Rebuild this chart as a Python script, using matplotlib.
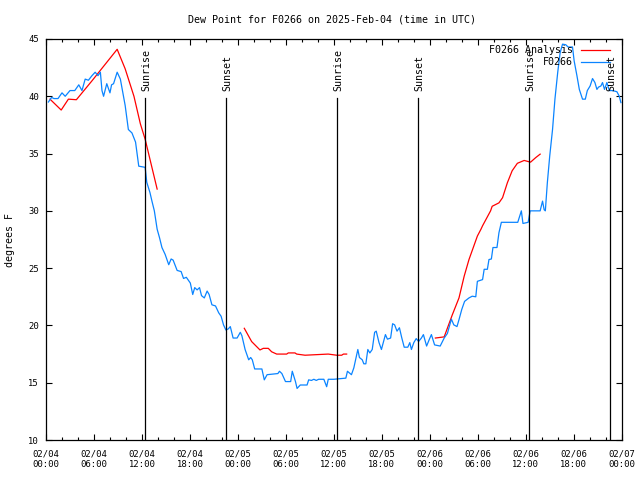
import matplotlib
matplotlib.use('Agg')
import matplotlib.pyplot as plt
from matplotlib.ticker import MultipleLocator

# hours since 02/04 00:00 UTC
obs_hours = [0.3, 0.7, 1.0, 1.5, 2.0, 2.4, 3.0, 3.6, 4.1, 4.5, 4.9, 5.3, 5.75, 6.15, 6.5, 6.8,
             7.0, 7.2, 7.6, 8.0, 8.2, 8.45, 8.9, 9.3, 9.9, 10.3, 10.75, 11.2, 11.6, 12.4, 12.6,
             13.0, 13.25, 13.55, 13.9, 14.2, 14.5, 14.9, 15.35, 15.65, 15.9, 16.4, 16.9, 17.2,
             17.55, 18.05, 18.35, 18.6, 18.9, 19.2, 19.45, 19.8, 20.15, 20.4, 20.75, 21.2, 21.6,
             21.9, 22.2, 22.5, 22.8, 23.05, 23.4, 23.9, 24.3, 24.5, 24.9, 25.35, 25.6, 25.8,
             26.1, 27.0, 27.3, 27.65, 29.0, 29.2, 29.5, 29.95, 30.6, 30.8, 31.2, 31.4, 31.8,
             32.65, 32.85, 33.2, 33.5, 33.8, 34.1, 34.75, 35.1, 35.3, 36.0, 37.5, 37.7, 38.2,
             38.5, 39.0, 39.2, 39.55, 39.75, 40.0, 40.25, 40.5, 40.8, 41.1, 41.3, 41.65, 41.95,
             42.45, 42.7, 43.1, 43.35, 43.6, 43.9, 44.2, 44.5, 44.8, 45.25, 45.5, 45.7, 46.0,
             46.3, 46.6, 46.95, 47.2, 47.6, 47.95, 48.2, 48.6, 49.3, 49.8, 50.2, 50.7, 51.0,
             51.4, 51.65, 52.0, 52.35, 52.9, 53.3, 53.75, 53.95, 54.6, 54.8, 55.2, 55.4, 55.7,
             55.9, 56.4, 56.65, 56.95, 58.5, 59.0, 59.45, 59.65, 60.3, 60.55, 61.8, 62.1, 62.3,
             62.45, 62.7, 63.0, 63.35, 63.65, 64.0, 64.3, 64.6, 65.0, 65.3, 65.85, 66.05, 66.4,
             66.7, 67.1, 67.45, 67.7, 68.05, 68.35, 68.65, 68.9, 69.1, 69.4, 69.6, 69.85, 70.15,
             70.45, 70.85, 71.4, 71.7, 71.9]
obs_dewpt = [39.5, 39.9, 39.8, 39.8, 40.3, 40.0, 40.5, 40.5, 41.0, 40.5, 41.5, 41.4, 41.8, 42.1, 41.8, 42.1,
             40.5, 40.0, 41.1, 40.3, 41.0, 41.1, 42.1, 41.5, 39.2, 37.1, 36.8, 36.0, 33.9, 33.8, 32.5,
             31.6, 30.85, 30.0, 28.4, 27.65, 26.8, 26.2, 25.3, 25.8, 25.7, 24.8, 24.7, 24.1,
             24.2, 23.7, 22.7, 23.3, 23.1, 23.3, 22.6, 22.4, 23.0, 22.7, 21.8, 21.7, 21.1,
             20.8, 20.05, 19.6, 19.7, 19.9, 18.9, 18.9, 19.4, 19.1, 17.9, 17.0, 17.2, 17.0,
             16.2, 16.2, 15.25, 15.7, 15.8, 16.0, 15.8, 15.1, 15.1, 16.0, 15.1, 14.5, 14.8,
             14.8, 15.25, 15.2, 15.3, 15.2, 15.3, 15.3, 14.65, 15.3, 15.3, 15.4, 16.0, 15.7,
             16.3, 17.9, 17.2, 17.0, 16.65, 16.65, 17.9, 17.6, 17.9, 19.4, 19.5, 18.5, 17.9,
             19.2, 18.8, 18.9, 20.15, 20.05, 19.5, 19.8, 18.9, 18.1, 18.1, 18.5, 17.9, 18.5,
             18.85, 18.6, 18.9, 19.2, 18.2, 18.8, 19.2, 18.3, 18.2, 18.9, 19.3, 20.55, 20.05,
             19.9, 20.5, 21.4, 22.1, 22.4, 22.55, 22.5, 23.85, 24.0, 24.9, 24.9, 25.75, 25.8,
             26.8, 26.8, 28.1, 29.0, 29.0, 29.0, 30.0, 28.9, 29.0, 30.0, 30.0, 30.85, 30.1,
             30.0, 32.45, 34.8, 37.1, 39.75, 42.1, 43.8, 44.55, 44.5, 44.3, 44.3, 43.1, 41.8,
             40.6, 39.75, 39.75, 40.5, 40.9, 41.55, 41.2, 40.6, 40.8, 40.9, 41.2, 40.6, 41.2,
             40.5, 40.5, 40.4, 40.0, 39.45]

# analysis comes in three separate runs
ana1_hours = [0.5, 1.9, 2.8, 3.8, 5.75, 8.9, 9.9, 11.0, 11.8, 12.4, 13.9]
ana1_dewpt = [39.75, 38.8, 39.75, 39.7, 41.35, 44.1, 42.4, 40.0, 37.6, 36.25, 31.9]
ana2_hours = [24.8, 25.72, 26.76, 27.18, 27.8, 28.22, 28.85, 30.1, 30.3, 31.14, 31.35, 32.4,
              35.3, 36.35, 36.98, 37.2, 37.6]
ana2_dewpt = [19.75, 18.59, 17.86, 18.0, 18.0, 17.7, 17.5, 17.5, 17.6, 17.6, 17.5, 17.4,
              17.5, 17.4, 17.4, 17.5, 17.5]
ana3_hours = [48.7, 49.8, 50.8, 51.65, 52.3, 52.9, 53.95, 54.4, 54.6, 55.6, 55.8, 56.65, 57.1,
              57.7, 58.3, 58.95, 59.8, 60.6, 61.25, 61.8]
ana3_dewpt = [18.9, 19.0, 20.9, 22.4, 24.3, 25.75, 27.8, 28.4, 28.7, 30.0, 30.4, 30.7, 31.15,
              32.45, 33.5, 34.15, 34.4, 34.25, 34.65, 34.95]

sun_events = [(12.42, 'Sunrise'), (22.5, 'Sunset'), (36.4, 'Sunrise'),
              (46.53, 'Sunset'), (60.38, 'Sunrise'), (70.56, 'Sunset')]

tick_hours = list(range(0, 73, 6))
tick_labels = ['02/04\n00:00', '02/04\n06:00', '02/04\n12:00', '02/04\n18:00',
               '02/05\n00:00', '02/05\n06:00', '02/05\n12:00', '02/05\n18:00',
               '02/06\n00:00', '02/06\n06:00', '02/06\n12:00', '02/06\n18:00',
               '02/07\n00:00']

RED = '#ff0000'
BLUE = '#0a84ff'
mono = 'DejaVu Sans Mono'

fig = plt.figure(figsize=(6.4, 4.8), dpi=100)
ax = fig.add_axes([46 / 640, 1 - 440 / 480, 575.7 / 640, 401 / 480])

ax.plot(ana1_hours, ana1_dewpt, color=RED, lw=0.9)
ax.plot(ana2_hours, ana2_dewpt, color=RED, lw=0.9)
ax.plot(ana3_hours, ana3_dewpt, color=RED, lw=0.9)
ax.plot(obs_hours, obs_dewpt, color=BLUE, lw=0.9)

for h, name in sun_events:
    ax.plot([h, h], [10, 39.85], color='black', lw=0.9)
    ax.text(h + 0.15, 40.45, name, rotation=90, ha='center', va='bottom',
            family=mono, fontsize=7.2)

ax.set_xlim(0, 72)
ax.set_ylim(10, 45)
ax.set_xticks(tick_hours)
ax.set_xticklabels(tick_labels, family=mono, fontsize=6.4, linespacing=1.25)
ax.xaxis.set_minor_locator(MultipleLocator(2))
ax.set_yticks(range(10, 46, 5))
ax.set_yticklabels([str(v) for v in range(10, 46, 5)], family=mono, fontsize=6.4)
ax.tick_params(which='major', direction='in', length=4, width=0.8, top=True, right=True)
ax.tick_params(which='minor', direction='in', length=2, width=0.8, top=True, right=False)
ax.tick_params(axis='x', pad=7)
ax.tick_params(axis='y', pad=5)
for s in ax.spines.values():
    s.set_linewidth(0.9)

# key, right-justified like gnuplot
key = [('F0266 Analysis', RED), ('F0266', BLUE)]
for i, (lab, col) in enumerate(key):
    yk = 0.9726 - i * 0.030
    ax.text(0.9154, yk, lab, transform=ax.transAxes, ha='right', va='center',
            family=mono, fontsize=7.2)
    ax.plot([0.9293, 0.9797], [yk, yk], transform=ax.transAxes, color=col, lw=0.9)

fig.text(332.5 / 640, 1 - 19 / 480, 'Dew Point for F0266 on 2025-Feb-04 (time in UTC)',
         ha='center', va='center', family=mono, fontsize=7.2)
fig.text(10 / 640, 0.5, 'degrees F', rotation=90, ha='center', va='center',
         family=mono, fontsize=7.2)

fig.savefig('out.png', dpi=100)
